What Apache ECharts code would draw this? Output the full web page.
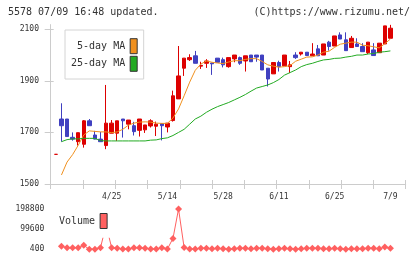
<!DOCTYPE html>
<html><head><meta charset="utf-8">
<script src="https://cdn.jsdelivr.net/npm/echarts@6/dist/echarts.min.js"></script>
<style>html,body{margin:0;padding:0;background:#fff}#c{width:420px;height:259px}</style>
</head><body><div id="c"></div>
<script>
const dates = ['4/11','4/12','4/15','4/16','4/17','4/18','4/19','4/22','4/23','4/24','4/25','4/26','4/30',
  '5/1','5/2','5/7','5/8','5/9','5/10','5/13','5/14','5/15','5/16','5/17','5/20','5/21','5/22','5/23','5/24',
  '5/27','5/28','5/29','5/30','5/31','6/3','6/4','6/5','6/6','6/7','6/10','6/11','6/12','6/13','6/14',
  '6/17','6/18','6/19','6/20','6/21','6/24','6/25','6/26','6/27','6/28','7/1','7/2','7/3','7/4','7/5','7/8','7/9'];
const opens  = [1615,1752,1752,1681,1664,1654,1745,1690,1674,1649,1697,1697,1752,1732,1726,1708,1710,1725,1724,1734,1721,
  1746,1830,1949,1982,1997,1957,1968,1969,1988,1982,1955,1985,1990,1977,2000,2000,2000,1949,1927,1971,
  1958,1955,2000,2004,2011,1997,2024,2000,2050,2035,2078,2059,2029,2043,2033,2009,2020,2009,2043,2065];
const closes = [1615,1726,1684,1674,1699,1745,1726,1674,1664,1736,1736,1745,1745,1748,1703,1752,1729,1745,1732,1726,1736,
  1842,1919,1988,1990,1968,1960,1977,1966,1972,1962,1990,2000,1968,1997,1974,1992,1942,1907,1971,1955,
  2000,1962,1990,2011,1998,2004,1997,2043,2033,2074,2062,2017,2065,2033,2013,2050,1998,2046,2113,2104];
const lows   = [1615,1664,1684,1668,1649,1641,1726,1673,1664,1635,1697,1667,1680,1712,1688,1684,1698,1719,1686,1669,1700,
  1742,1830,1919,1977,1968,1946,1950,1923,1972,1952,1951,1972,1962,1936,1974,1974,1942,1878,1927,1936,
  1958,1930,1985,1998,1998,1997,1997,2000,2017,2035,2062,2017,2029,2033,2013,2004,1998,2009,2043,2065];
const highs  = [1615,1813,1752,1700,1699,1748,1752,1706,1702,1884,1748,1745,1752,1748,1741,1752,1729,1751,1742,1734,1736,
  1862,2035,1988,2003,2016,1974,1984,1970,1988,1990,1990,2000,1994,1997,2000,2000,2000,1949,1971,1978,
  2000,1977,2011,2011,2011,2046,2039,2043,2055,2074,2088,2088,2074,2065,2046,2050,2046,2046,2113,2117];
const ma5  = [null,1535,1585,1614,1650,1690,1706,1704,1702,1702,1699,1702,1712,1728,1736,1740,1741,1740,1736,1735,1735,
  1756,1791,1842,1895,1941,1965,1977,1972,1969,1967,1973,1978,1978,1983,1986,1986,1975,1962,1957,1953,
  1955,1959,1976,1984,1992,1993,2000,2011,2015,2030,2042,2046,2050,2050,2038,2036,2032,2028,2044,2062];
const ma25 = [null,1664,1672,1675,1675,1677,1677,1677,1668,1667,1667,1667,1667,1667,1667,1667,1667,1670,1671,1676,1679,
  1688,1700,1712,1732,1752,1763,1778,1790,1800,1808,1816,1826,1836,1847,1860,1872,1878,1884,1893,1905,
  1922,1932,1942,1955,1963,1968,1975,1981,1983,1987,1988,1992,1995,2000,2000,2004,2006,2011,2013,2016];
const volume = [null,16000,8000,8000,8000,20000,400,1000,8000,120000,8000,6000,2000,2000,8000,8000,6000,2000,2000,8000,2000,
  54000,198800,9000,2000,2000,6000,5000,3000,5000,3000,1000,3000,5000,5000,3000,5000,5000,3000,1000,3000,
  5000,3000,1000,3000,5000,5000,5000,3000,3000,5000,3000,1000,3000,3000,3000,5000,5000,3000,12000,5000];
const priceTicks = [1500,1700,1900,2100];
const volumeTicks = [400,99600,198800];
const dateLabelIdx = [10,20,30,40,50,60];

const FONT = 'DejaVu Sans Mono';
const AX = '#cccccc';
const TXT = '#333333';
const chart = echarts.init(document.getElementById('c'), null, {renderer:'canvas'});
const candle = dates.map((d,i)=>[opens[i],closes[i],lows[i],highs[i]]);
const gL = 53.1, gW = 340.1;
const legendText = {fontFamily:FONT, fontSize:10, color:TXT};
const plain = (v)=>String(v);
chart.setOption({
  animation:false,
  textStyle:{fontFamily:FONT},
  graphic:[
    {type:'text', left:8, top:7, style:{text:'5578 07/09 16:48 updated.', font:'10px "DejaVu Sans Mono"', fill:TXT}},
    {type:'text', right:10, top:7, style:{text:'(C)https://www.rizumu.net/', font:'10px "DejaVu Sans Mono"', fill:TXT}}
  ],
  grid:[
    {left:50.7, width:355, top:24.6, height:159.4},
    {left:gL, width:gW, top:24.6, height:159.4},
    {left:gL, width:gW, top:209, height:40.3}
  ],
  xAxis:[
    {gridIndex:0, type:'value', position:'bottom', min:0, max:11, interval:1,
     axisLine:{show:true, lineStyle:{color:AX}}, axisTick:{show:true, length:5, lineStyle:{color:AX}},
     axisLabel:{show:false}, splitLine:{show:false}},
    {gridIndex:0, type:'value', position:'bottom', min:0, max:11, interval:1,
     axisLine:{show:false}, axisTick:{show:true, inside:true, length:4, lineStyle:{color:AX}},
     axisLabel:{show:false}, splitLine:{show:false}},
    {gridIndex:1, type:'category', data:dates, boundaryGap:true, position:'bottom',
     axisLine:{show:false}, axisTick:{show:false}, splitLine:{show:false},
     axisLabel:{interval:(i)=>dateLabelIdx.includes(i), margin:9, fontSize:8, color:TXT, fontFamily:FONT}},
    {gridIndex:2, type:'category', data:dates, boundaryGap:true, show:false}
  ],
  yAxis:[
    {gridIndex:0, type:'value', position:'left', min:1500, max:2118,
     axisLine:{show:true, lineStyle:{color:AX}},
     axisTick:{show:true, length:6, customValues:priceTicks, lineStyle:{color:AX}},
     axisLabel:{customValues:priceTicks, formatter:plain, margin:11.7, fontSize:8, color:TXT, fontFamily:FONT},
     splitLine:{show:false}},
    {gridIndex:0, type:'value', position:'left', min:1500, max:2118,
     axisLine:{show:false},
     axisTick:{show:true, inside:true, length:3, customValues:priceTicks, lineStyle:{color:AX}},
     axisLabel:{show:false}, splitLine:{show:false}},
    {gridIndex:1, type:'value', min:1500, max:2118, show:false},
    {gridIndex:2, type:'value', min:400, max:198800,
     axisLine:{show:false}, axisTick:{show:false}, splitLine:{show:false},
     axisLabel:{customValues:volumeTicks, formatter:plain, margin:8.8, fontSize:8, color:TXT, fontFamily:FONT}}
  ],
  legend:[
    {data:[
      {name:'5-day MA', icon:'rect', itemStyle:{color:'#f0901e', borderColor:'#333', borderWidth:1}},
      {name:'25-day MA', icon:'rect', itemStyle:{color:'#22aa22', borderColor:'#333', borderWidth:1}}],
     orient:'vertical', left:65, top:30, align:'right', itemWidth:7, itemHeight:15, itemGap:1.6,
     padding:[8.2,6,7.2,6], backgroundColor:'#fff', borderColor:'#d4d4d4', borderWidth:1,
     selectedMode:false, formatter:(n)=>'{a|'+n+'}',
     textStyle:Object.assign({rich:{a:Object.assign({width:55, align:'right'}, legendText)}}, legendText)},
    {data:[{name:'Volume', icon:'rect', itemStyle:{color:'#ff6060', borderColor:'#333', borderWidth:1}}],
     orient:'vertical', left:53, top:204.3, align:'right', itemWidth:7, itemHeight:15,
     padding:[8.7,6,8.7,6], backgroundColor:'#fff', borderWidth:0,
     selectedMode:false, formatter:(n)=>'{a|'+n+'}',
     textStyle:Object.assign({rich:{a:Object.assign({width:37, align:'right'}, legendText)}}, legendText)}
  ],
  series:[
    {type:'candlestick', name:'price', xAxisIndex:2, yAxisIndex:2, data:candle, barWidth:4,
     itemStyle:{color:'#dd0000', color0:'#4040c0', borderColor:'#dd0000', borderColor0:'#4040c0',
       borderColorDoji:'#dd0000', borderWidth:1}},
    {type:'line', name:'5-day MA', xAxisIndex:2, yAxisIndex:2, data:ma5, symbol:'none',
     lineStyle:{color:'#f0901e', width:1}, itemStyle:{color:'#f0901e'}},
    {type:'line', name:'25-day MA', xAxisIndex:2, yAxisIndex:2, data:ma25, symbol:'none',
     lineStyle:{color:'#22aa22', width:1}, itemStyle:{color:'#22aa22'}},
    {type:'line', name:'Volume', xAxisIndex:3, yAxisIndex:3, data:volume, symbol:'diamond', symbolSize:7,
     showAllSymbol:true, lineStyle:{color:'#ff6060', width:1}, itemStyle:{color:'#ff6060'}}
  ]
});
</script></body></html>
